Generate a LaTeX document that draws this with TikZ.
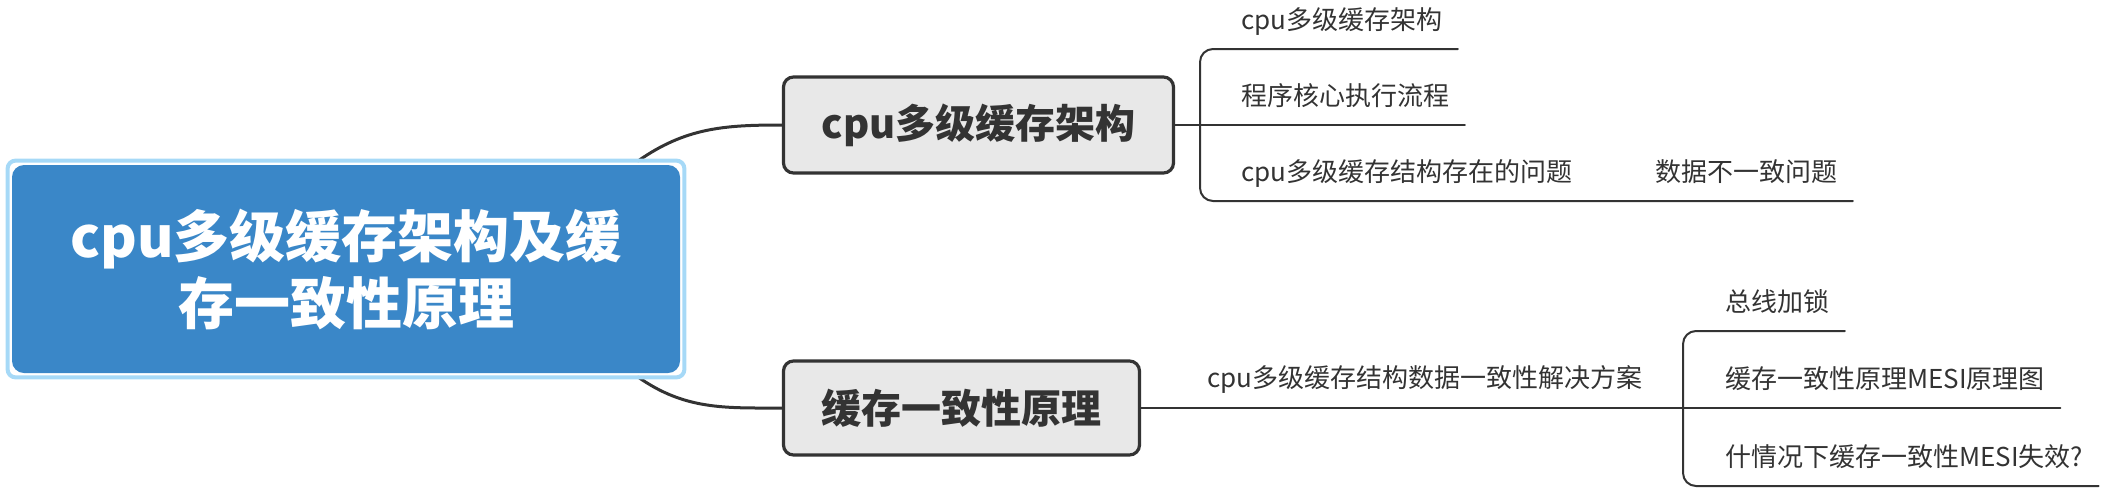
\documentclass[tikz,border=0pt]{standalone}
\usepackage{fontspec}
\newfontfamily\cjk{Noto Sans CJK SC}
\usepackage{tikz}
\usetikzlibrary{positioning}
\definecolor{rootBlue}{RGB}{58,135,200}
\definecolor{rootFrame}{RGB}{166,217,247}
\definecolor{boxGray}{RGB}{232,232,232}
\definecolor{inkDark}{RGB}{51,51,51}
\tikzset{every node/.style={font=\cjk}, every path/.style={line cap=round, line join=round},
    rootnode/.style={fill=rootBlue, text=white, rounded corners=6pt, inner sep=0pt, minimum width=334pt, minimum height=104pt, align=center, font=\cjk\bfseries\fontsize{28}{33.5}\selectfont},
    branchbox/.style={fill=boxGray, draw=inkDark, line width=1.6pt, rounded corners=5pt, inner sep=0pt, text=inkDark, font=\cjk\bfseries\fontsize{20}{24}\selectfont},
    leaf/.style={anchor=south west, inner xsep=7.5pt, inner ysep=6pt, text depth=3.5pt, text=inkDark, font=\cjk\fontsize{13}{16}\selectfont},
    leafline/.style={draw=inkDark, line width=1pt},
    branchcurve/.style={draw=inkDark, line width=1.5pt}}

\begin{document}
\begin{tikzpicture}[x=0.5pt, y=0.5pt]
    \useasboundingbox (0,0) rectangle (2102,500);
    % central topic
    \node [rootnode] (root) at (346,231) {cpu多级缓存架构及缓\\存一致性原理};
    % main branches
    \node [branchbox, minimum width=195pt, minimum height=48pt] (cache) at (978.5,375) {cpu多级缓存架构};
    \node [branchbox, minimum width=178pt, minimum height=47pt] (coherence) at (961.5,92) {缓存一致性原理};
    \coordinate (rootTop) at (638,339);
    \coordinate (rootBottom) at (638,123);
    \draw [branchcurve] (rootTop) to[out=35, in=180] (cache.west);
    \draw [branchcurve] (rootBottom) to[out=-35, in=180] (coherence.west);
    \draw [rootFrame, line width=2pt, rounded corners=4pt] ([shift={(-4,-4)}]root.south west) rectangle ([shift={(4,4)}]root.north east);
    % first branch
    \coordinate (fork1) at (1200,375);
    \node [leaf] (arch) at (1226,451) {cpu多级缓存架构};
    \node [leaf] (flow) at (1226,375) {程序核心执行流程};
    \node [leaf] (issue) at (1226,299) {cpu多级缓存结构存在的问题};
    \node [leaf] (mismatch) at (1640,299) {数据不一致问题};
    \draw [leafline] (cache.east) -- (flow.south east);
    \draw [leafline, rounded corners=6.5pt] (arch.south east) -- (arch.south -| fork1) -- (issue.south -| fork1) -- (mismatch.south east);
    % second branch
    \coordinate (fork2) at (1683,92);
    \node [leaf] (scheme) at (1192,93) {cpu多级缓存结构数据一致性解决方案};
    \node [leaf] (buslock) at (1710,169) {总线加锁};
    \node [leaf] (mesi) at (1710,92) {缓存一致性原理MESI原理图};
    \node [leaf] (fail) at (1710,14) {什情况下缓存一致性MESI失效?};
    \draw [leafline] (coherence.east) -- (mesi.south east);
    \draw [leafline, rounded corners=6.5pt] (buslock.south east) -- (buslock.south -| fork2) -- (fail.south -| fork2) -- (fail.south east);
\end{tikzpicture}
\end{document}
